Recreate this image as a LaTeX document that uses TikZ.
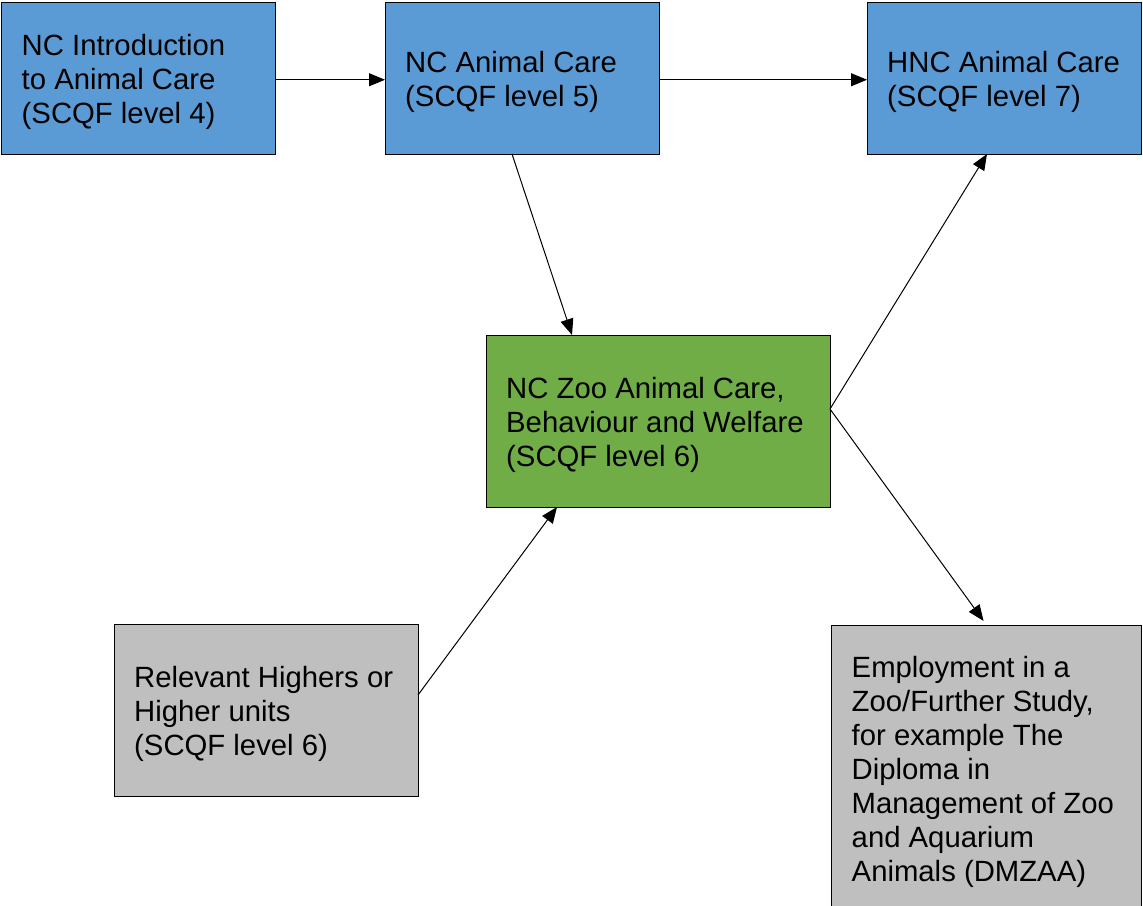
\documentclass[tikz,border=0pt]{standalone}
\usepackage{fontspec}
\setmainfont{Liberation Sans}
\usetikzlibrary{arrows.meta}
\definecolor{boxblue}{HTML}{5B9BD5}
\definecolor{boxgreen}{HTML}{70AD47}
\definecolor{boxgray}{HTML}{BFBFBF}
\begin{document}
\begin{tikzpicture}[x=1pt,y=-1pt,
  box/.style={draw=black, line width=1pt, anchor=north west, inner sep=0pt, outer sep=0pt},
  lbl/.style={anchor=west, align=left, inner sep=0pt, font=\fontsize{29.3}{34}\selectfont},
  conn/.style={line width=1pt, -{Triangle[length=16pt,width=13pt]}}]
\clip (0,0) rectangle (1143,905);
\node[box, fill=boxblue, minimum width=274pt, minimum height=151.5pt] (b1) at (1.5,2.5) {};
\node[box, fill=boxblue, minimum width=274pt, minimum height=151.5pt] (b2) at (385,2.5) {};
\node[box, fill=boxblue, minimum width=274pt, minimum height=151.5pt] (b3) at (867,2.5) {};
\node[box, fill=boxgreen, minimum width=344pt, minimum height=172pt] (g) at (486,335) {};
\node[box, fill=boxgray, minimum width=304pt, minimum height=172pt] (h) at (114,624) {};
\node[box, fill=boxgray, minimum width=310pt, minimum height=285pt] (e) at (831.5,625) {};

\node[lbl] (b1t) at ([xshift=20pt,yshift=-4pt]b1.west) {NC Introduction\\to Animal Care\\(SCQF level 4)};
\node[lbl] (b2t) at ([xshift=20pt,yshift=-4pt]b2.west) {NC Animal Care\\(SCQF level 5)};
\node[lbl] (b3t) at ([xshift=20pt,yshift=-4pt]b3.west) {HNC Animal Care\\(SCQF level 7)};
\node[lbl] (gt) at ([xshift=20pt,yshift=-4pt]g.west) {NC Zoo Animal Care,\\Behaviour and Welfare\\(SCQF level 6)};
\node[lbl] (ht) at ([xshift=20pt,yshift=-4pt]h.west) {Relevant Highers or\\Higher units\\(SCQF level 6)};
\node[lbl] (et) at ([xshift=20pt,yshift=-4pt]e.west) {Employment in a\\Zoo/Further Study,\\for example The\\Diploma in\\Management of Zoo\\and Aquarium\\Animals (DMZAA)};

\draw[conn] ([yshift=-1.5pt]b1.east) -- ([yshift=-1.5pt]b2.west);
\draw[conn] ([yshift=-1.5pt]b2.east) -- ([yshift=-1.5pt]b3.west);
\draw[conn] ([xshift=-10pt]b2.south) -- ([xshift=-86pt]g.north);
\draw[conn] ([yshift=12pt]g.east) -- ([xshift=-17pt]b3.south);
\draw[conn, shorten >=5pt] ([yshift=12pt]g.east) -- (e.north);
\draw[conn] ([yshift=15pt]h.east) -- ([xshift=-101pt]g.south);
\end{tikzpicture}
\end{document}
